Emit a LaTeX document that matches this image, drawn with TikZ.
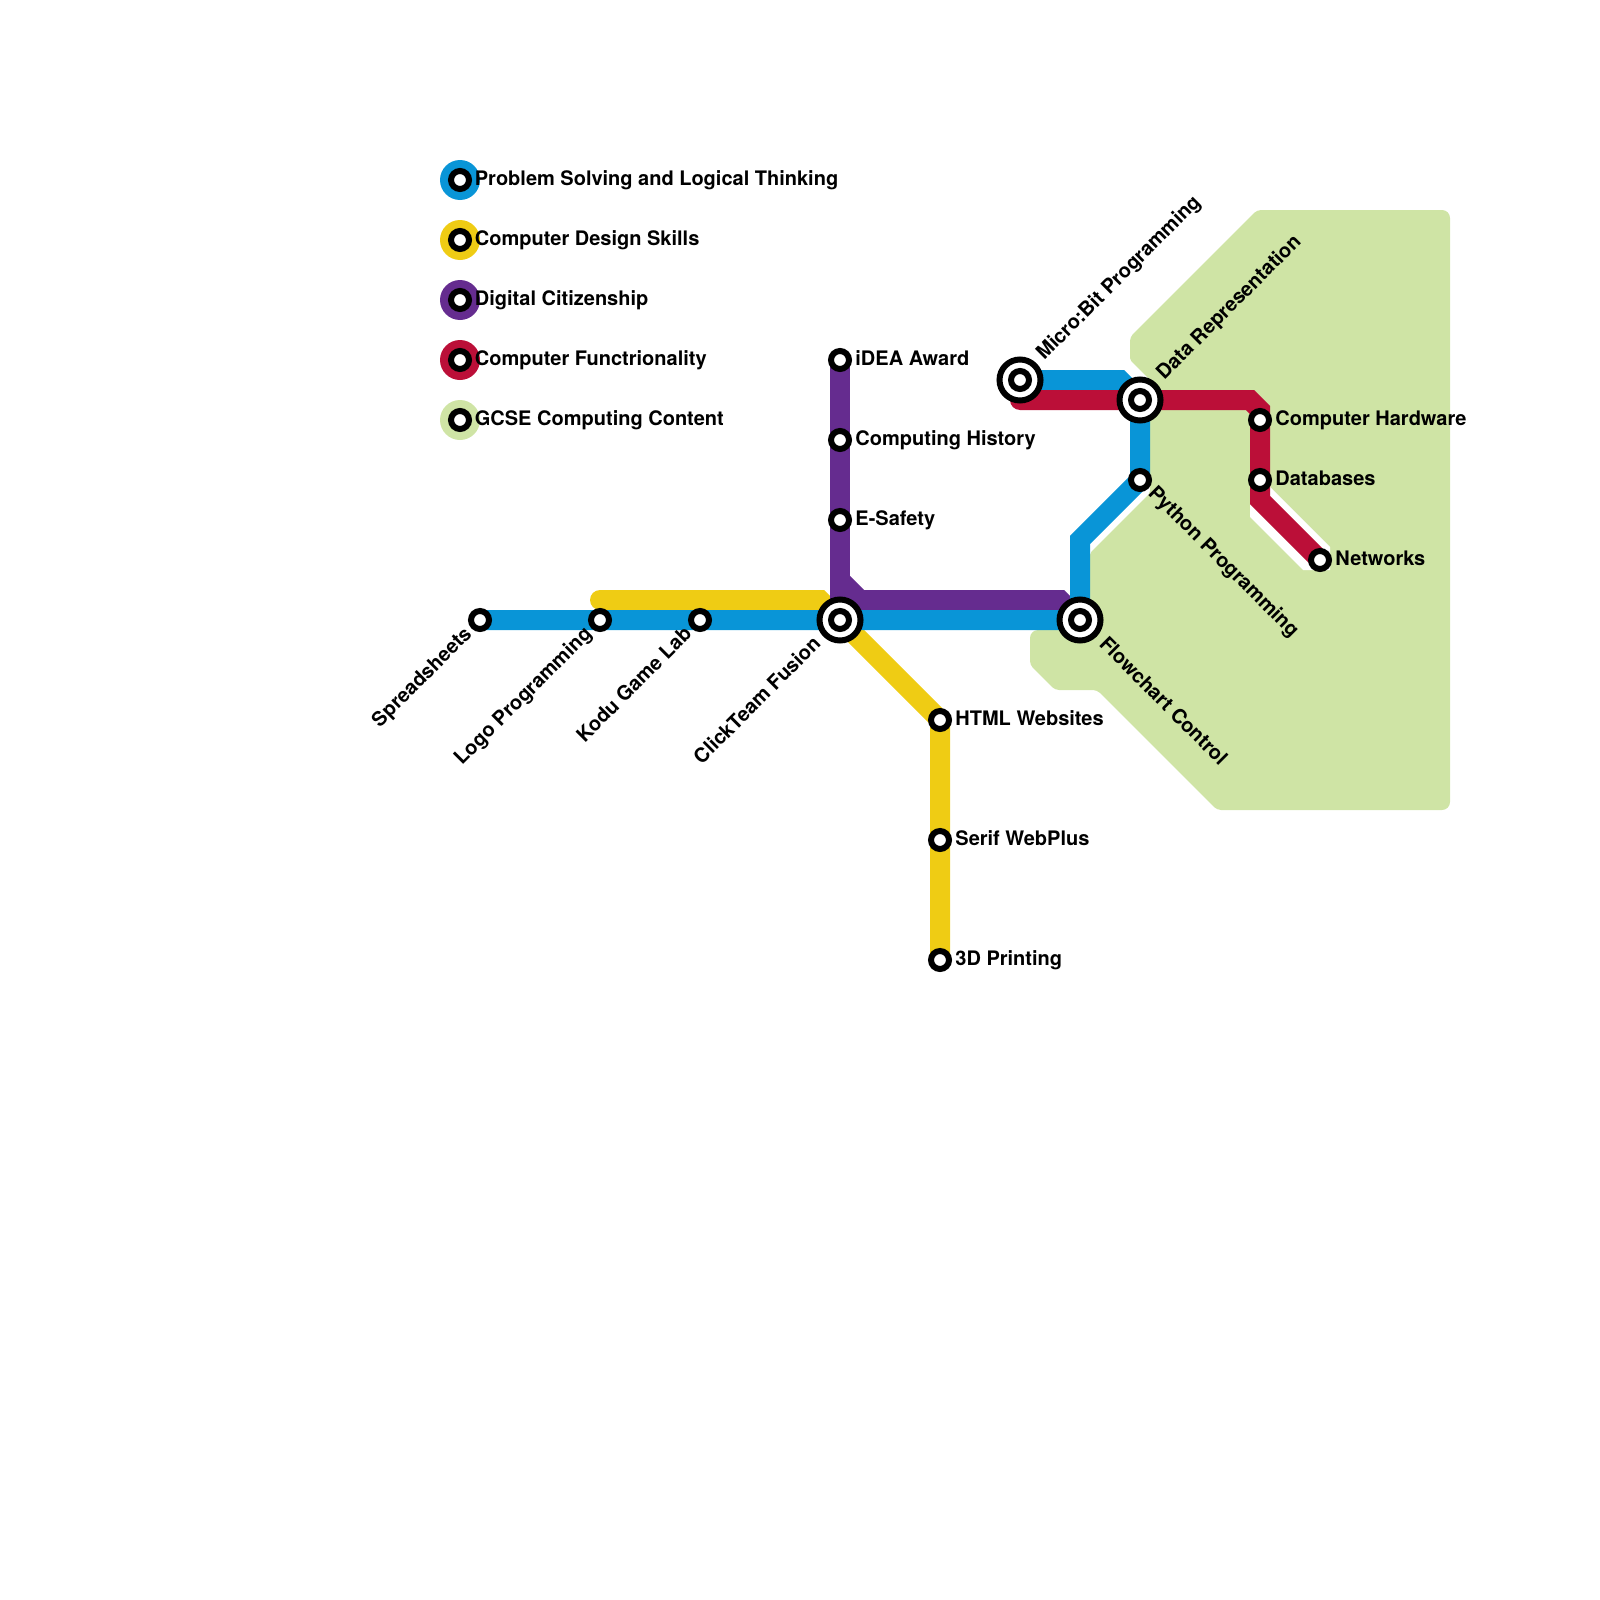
\documentclass[tikz,border=0pt]{standalone}
\usepackage{fontspec}
\setmainfont{TeX Gyre Heros}
\usetikzlibrary{backgrounds}
\definecolor{problemblue}{RGB}{9,149,215}
\definecolor{designyellow}{RGB}{239,204,20}
\definecolor{citizenpurple}{RGB}{101,44,143}
\definecolor{functionred}{RGB}{187,15,56}
\definecolor{gcsegreen}{RGB}{207,228,165}
\tikzset{
  station/.style={circle, draw=black, fill=white, line width=3pt, minimum size=9pt, inner sep=0pt},
  hubring/.style={circle, draw=black, fill=white, line width=3pt, minimum size=20.5pt, inner sep=0pt},
  legenddot/.style={circle, fill=#1, minimum size=20pt, inner sep=0pt},
  stnlabel/.style={font=\fontsize{10}{12}\selectfont\bfseries, inner sep=0pt},
  tube/.style={line width=10pt, line cap=round, line join=miter}
}

\begin{document}
\begin{tikzpicture}[x=0.5pt, y=-0.5pt]
\useasboundingbox (0,0) rectangle (1600,1600);

% Legende
\foreach \y/\col/\txt/\nam in {180/problemblue/Problem Solving and Logical Thinking/legblue,
    240/designyellow/Computer Design Skills/legyellow,
    300/citizenpurple/Digital Citizenship/legpurple,
    360/functionred/Computer Functrionality/legred,
    420/gcsegreen/GCSE Computing Content/leggreen} {
  \node[legenddot=\col] (\nam dot) at (460,\y) {};
  \node[station] (\nam) at (460,\y) {};
  \node[stnlabel, anchor=base west] (\nam text) at (474.5,\y+5) {\txt};
}

% Grandes stations
\node[hubring] (microring) at (1020,380) {};
\node[hubring] (dataring) at (1140,400) {};
\node[hubring] (clickring) at (840,620) {};
\node[hubring] (flowring) at (1080,620) {};

% Stations
\node[station] (spread) at (480,620) {};
\node[station] (logo) at (600,620) {};
\node[station] (kodu) at (700,620) {};
\node[station] (click) at (840,620) {};
\node[station] (flow) at (1080,620) {};
\node[station] (idea) at (840,360) {};
\node[station] (history) at (840,440) {};
\node[station] (esafety) at (840,520) {};
\node[station] (html) at (940,720) {};
\node[station] (serif) at (940,840) {};
\node[station] (printing) at (940,960) {};
\node[station] (micro) at (1020,380) {};
\node[station] (data) at (1140,400) {};
\node[station] (python) at (1140,480) {};
\node[station] (hardware) at (1260,420) {};
\node[station] (databases) at (1260,480) {};
\node[station] (networks) at (1320,560) {};

% Coudes
\coordinate (yellowstart) at (600,600);
\coordinate (yellowbend) at (820,600);
\coordinate (purplebenda) at (840,580);
\coordinate (purplebendb) at (860,600);
\coordinate (purplebendc) at (1060,600);
\coordinate (bluebenda) at (1120,380);
\coordinate (bluebendb) at (1080,540);
\coordinate (redstart) at (1020,400);
\coordinate (redbenda) at (1250,400);
\coordinate (redbendb) at (1260,410);
\coordinate (redbendc) at (1260,500);

% Etiquettes
\node[stnlabel, anchor=base west] (ideatext) at (855,365) {iDEA Award};
\node[stnlabel, anchor=base west] (historytext) at (855,445) {Computing History};
\node[stnlabel, anchor=base west] (esafetytext) at (855,525) {E-Safety};
\node[stnlabel, anchor=base west] (htmltext) at (955,725) {HTML Websites};
\node[stnlabel, anchor=base west] (seriftext) at (955,845) {Serif WebPlus};
\node[stnlabel, anchor=base west] (printingtext) at (955,965) {3D Printing};
\node[stnlabel, anchor=base west] (hardwaretext) at (1275,425) {Computer Hardware};
\node[stnlabel, anchor=base west] (databasestext) at (1275,485) {Databases};
\node[stnlabel, anchor=base west] (networkstext) at (1335,565) {Networks};
\node[stnlabel, anchor=base west, rotate=45] (microtext) at (1044,361) {Micro:Bit Programming};
\node[stnlabel, anchor=base west, rotate=45] (datatext) at (1164,381) {Data Representation};
\node[stnlabel, anchor=base west, rotate=-45] (pythontext) at (1147,494) {Python Programming};
\node[stnlabel, anchor=base west, rotate=-45] (flowtext) at (1098,645) {Flowchart Control};
\node[stnlabel, anchor=base east, rotate=45] (spreadtext) at (473,635) {Spreadsheets};
\node[stnlabel, anchor=base east, rotate=45] (logotext) at (593,635) {Logo Programming};
\node[stnlabel, anchor=base east, rotate=45] (kodutext) at (693,635) {Kodu Game Lab};
\node[stnlabel, anchor=base east, rotate=45] (clicktext) at (822,645) {ClickTeam Fusion};

\begin{pgfonlayer}{background}
% Zone GCSE
\fill[gcsegreen, rounded corners=2pt] (1257,210) [rounded corners=4pt] -- (1450,210) -- (1450,810)
  [rounded corners=2pt] -- (1217,810) -- (1097,690) -- (1055,690) -- (1030,665) [rounded corners=4pt] -- (1030,630)
  [rounded corners=1pt] -- (1090,630) -- (1090,553) -- (1150,493) -- (1150,380) -- (1130,360)
  [rounded corners=2pt] -- (1130,337) -- cycle;
\fill[white] (1270,487) -- (1330,547) -- (1330,570) -- (1303,570) -- (1250,517) -- (1250,487) -- cycle;

% Lignes
\draw[tube, designyellow] (yellowstart) -- (yellowbend) -- (click.center) -- (html.center) -- (printing.center);
\draw[tube, citizenpurple] (idea.center) -- (click.center);
\draw[tube, citizenpurple] (purplebenda) -- (purplebendb) -- (purplebendc) -- (flow.center);
\draw[tube, citizenpurple] (click.center) -- (purplebendb);
\draw[tube, problemblue] (spread.center) -- (flow.center) -- (bluebendb) -- (python.center) -- (data.center) -- (bluebenda) -- (micro.center);
\draw[tube, functionred] (redstart) -- (redbenda) -- (redbendb) -- (redbendc) -- (networks.center);
\end{pgfonlayer}

\end{tikzpicture}
\end{document}
